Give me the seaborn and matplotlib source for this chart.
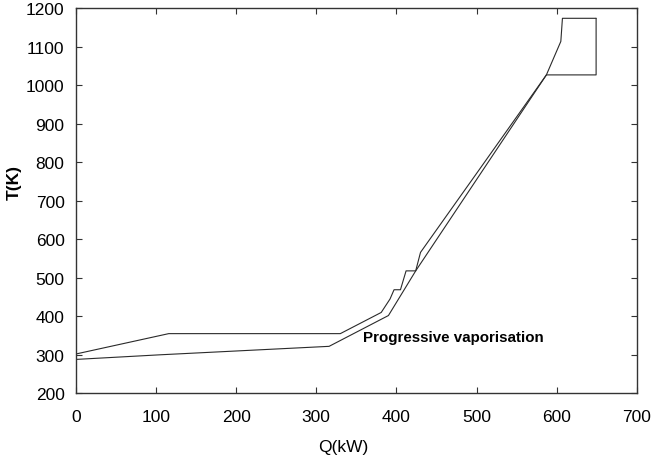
import matplotlib
matplotlib.use("Agg")
import matplotlib.pyplot as plt
import seaborn as sns
import pandas as pd

# Upper (hot) composite curve
hot_q = [0, 116, 330, 381, 392, 397, 405, 412, 424, 430, 505, 587, 649, 649]
hot_t = [302, 355, 355, 410, 445, 469, 469, 518, 518, 566, 786, 1027, 1027, 1174]
# Lower (cold) composite curve
cold_q = [0, 105, 316, 390, 424, 505, 587, 605, 607, 649]
cold_t = [288, 300, 322, 402, 518, 771, 1027, 1114, 1174, 1174]

x_ticks = [0, 100, 200, 300, 400, 500, 600, 700]
y_ticks = [200, 300, 400, 500, 600, 700, 800, 900, 1000, 1100, 1200]

sns.set_style("ticks")
plt.rcParams['font.family'] = ['Liberation Sans', 'DejaVu Sans']

fig = plt.figure(figsize=(6.51, 4.60), dpi=100)
ax = fig.add_axes([0.1163, 0.1428, 0.8622, 0.837])

hot_df = pd.DataFrame({"Q": hot_q, "T": hot_t})
cold_df = pd.DataFrame({"Q": cold_q, "T": cold_t})
sns.lineplot(data=hot_df, x="Q", y="T", sort=False, estimator=None, ax=ax,
             color="#2a2a2a", linewidth=0.8)
sns.lineplot(data=cold_df, x="Q", y="T", sort=False, estimator=None, ax=ax,
             color="#2a2a2a", linewidth=0.8)

ax.set_xlim(0, 700)
ax.set_ylim(200, 1200)
ax.set_xticks(x_ticks)
ax.set_yticks(y_ticks)
ax.tick_params(direction="in", length=4, width=0.8, top=True, right=True,
               labelsize=12.5, colors="#333333", labelcolor="black")
ax.tick_params(axis="x", pad=11)
ax.tick_params(axis="y", pad=8)
for s in ax.spines.values():
    s.set_color("#333333")
    s.set_linewidth(1.0)
    s.set_visible(True)

ax.set_xlabel("Q(kW)", fontsize=12.5, color="black")
ax.set_ylabel("T(K)", fontsize=12.5, fontweight="bold", color="black")
ax.xaxis.set_label_coords(0.476, -0.139)
ax.xaxis.label.set_va("center")
ax.yaxis.set_label_coords(-0.11, 0.55)
ax.yaxis.label.set_va("center")

ax.text(358, 346, "Progressive vaporisation", fontsize=10.9, fontweight="bold",
        va="center", ha="left", color="black")

fig.savefig("out.png", dpi=100)
